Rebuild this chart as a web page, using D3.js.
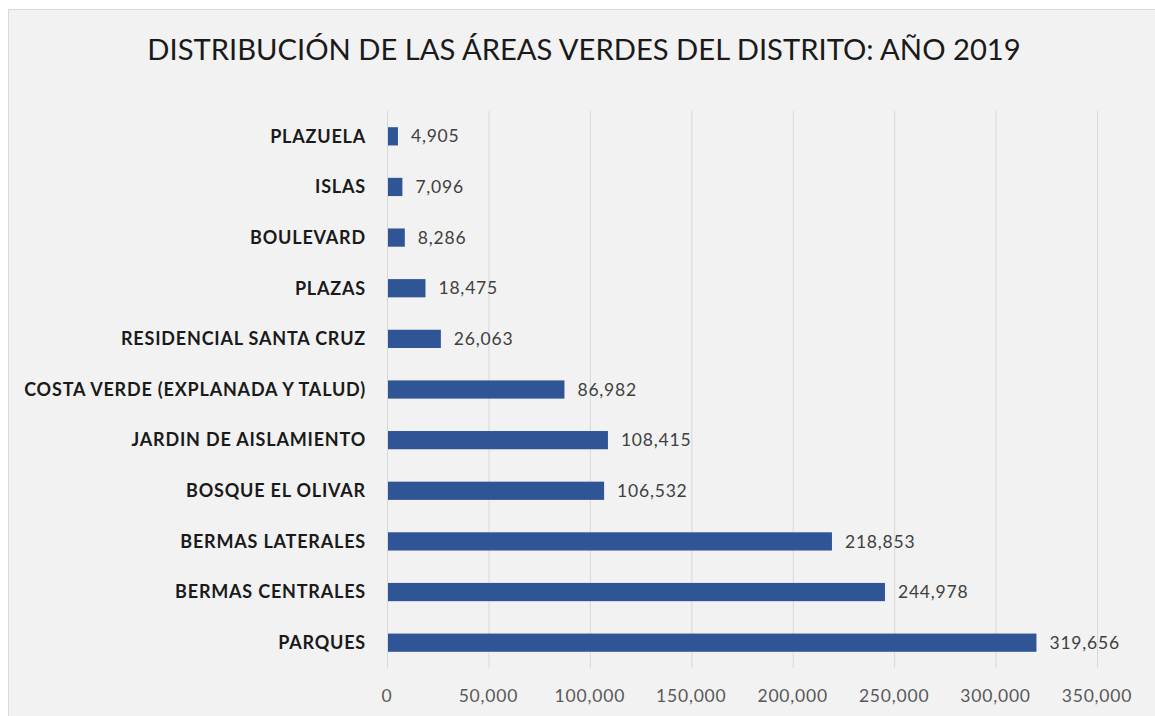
<!DOCTYPE html>
<html>
<head>
<meta charset="utf-8">
<script src="https://cdn.jsdelivr.net/npm/d3@7"></script>
<style>
  body { margin: 0; background: #fff; }
  text { font-family: Lato, "Open Sans", sans-serif; }
</style>
</head>
<body>
<svg id="chart" width="1155" height="716"></svg>
<script>
// Categories (top to bottom) and their areas
const categories = [
  "PLAZUELA", "ISLAS", "BOULEVARD", "PLAZAS", "RESIDENCIAL SANTA CRUZ",
  "COSTA VERDE (EXPLANADA Y TALUD)", "JARDIN DE AISLAMIENTO", "BOSQUE EL OLIVAR",
  "BERMAS LATERALES", "BERMAS CENTRALES", "PARQUES"
]
const areas = [4905, 7096, 8286, 18475, 26063, 86982, 108415, 106532, 218853, 244978, 319656]
const xTicks = [0, 50000, 100000, 150000, 200000, 250000, 300000, 350000]
const title = "DISTRIBUCIÓN DE LAS ÁREAS VERDES DEL DISTRITO: AÑO 2019"

const svg = d3.select("#chart")

// chart area background + border
svg.append("rect")
  .attr("x", 8.5).attr("y", 9.5)
  .attr("width", 1160).attr("height", 720)
  .attr("fill", "#f2f2f2")
  .attr("stroke", "#d9d9d9")

svg.append("text")
  .attr("x", 584).attr("y", 60)
  .attr("text-anchor", "middle")
  .attr("font-size", "29.2px")
  .attr("fill", "#1a1a1a")
  .text(title)

const plotLeft = 387, plotRight = 1097, plotTop = 111, plotBottom = 668

const x = d3.scaleLinear().domain([0, 350000]).range([plotLeft, plotRight])
const y = d3.scaleBand().domain(categories).range([plotTop, plotBottom]).paddingInner(0.64).paddingOuter(0.32)

// gridlines
svg.append("g")
  .selectAll("line")
  .data(xTicks)
  .enter()
  .append("line")
  .attr("x1", d => x(d) + 0.5).attr("x2", d => x(d) + 0.5)
  .attr("y1", plotTop).attr("y2", plotBottom)
  .attr("stroke", "#d9d9d9")
  .attr("stroke-width", 1)

// x tick labels
svg.append("g")
  .selectAll("text")
  .data(xTicks)
  .enter()
  .append("text")
  .attr("x", d => x(d))
  .attr("y", 702)
  .attr("text-anchor", "middle")
  .attr("font-size", "17.5px")
  .attr("letter-spacing", "0.8px")
  .attr("fill", "#595959")
  .text(d => d3.format(",")(d))

// bars
svg.append("g")
  .selectAll("rect")
  .data(categories)
  .enter()
  .append("rect")
  .attr("x", x(0) + 1)
  .attr("y", d => y(d))
  .attr("width", (d, i) => x(areas[i]) - x(0))
  .attr("height", y.bandwidth())
  .attr("fill", "#2f5597")

// value labels
svg.append("g")
  .selectAll("text")
  .data(categories)
  .enter()
  .append("text")
  .attr("x", (d, i) => x(areas[i]) + 14)
  .attr("y", d => y(d) + y.bandwidth() / 2)
  .attr("dy", "0.35em")
  .attr("font-size", "17.5px")
  .attr("letter-spacing", "0.8px")
  .attr("fill", "#404040")
  .text((d, i) => d3.format(",")(areas[i]))

// category labels
svg.append("g")
  .selectAll("text")
  .data(categories)
  .enter()
  .append("text")
  .attr("x", 366)
  .attr("y", d => y(d) + y.bandwidth() / 2)
  .attr("dy", "0.35em")
  .attr("text-anchor", "end")
  .attr("font-size", "18px")
  .attr("letter-spacing", "0.8px")
  .attr("font-weight", "bold")
  .attr("fill", "#1a1a1a")
  .text(d => d)
</script>
</body>
</html>
